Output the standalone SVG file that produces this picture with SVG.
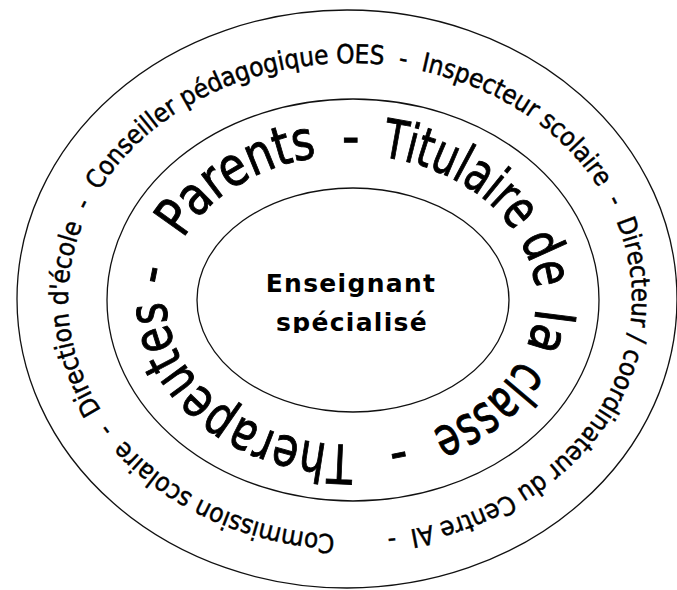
<svg xmlns="http://www.w3.org/2000/svg" xmlns:xlink="http://www.w3.org/1999/xlink" width="677" height="590" viewBox="0 0 677 590">
<style>
.ring{fill:none;stroke:#111;stroke-width:1.3}
.outer-t{font-family:"DejaVu Sans Condensed","DejaVu Sans",sans-serif;font-size:26px;fill:#000;stroke:#000;stroke-width:0.45}
.mid-t{font-family:"DejaVu Sans Condensed","DejaVu Sans",sans-serif;font-size:54px;fill:#000;stroke:#000;stroke-width:0.9}
.core-t{font-family:"DejaVu Sans","Verdana",sans-serif;font-weight:bold;font-size:25px;letter-spacing:1.3px;fill:#000;text-anchor:middle}
</style>
<defs>
<path id="outerPath" d="M350,535 A282,236 0 0 1 68,299 A282,236 0 0 1 350,63 A282,236 0 0 1 632,299 A282,236 0 0 1 350,535 A282,236 0 0 1 68,299"/>
<path id="midPath" d="M166,300 A185,145 0 0 1 351,155 A185,145 0 0 1 536,300 A185,145 0 0 1 351,445 A185,145 0 0 1 166,300 A185,145 0 0 1 351,155"/>
<clipPath id="coreClip"><rect x="0" y="0" width="677" height="333"/></clipPath>
</defs>
<rect width="677" height="590" fill="#fff"/>
<g id="outer-ring">
<ellipse class="ring" cx="347" cy="299" rx="330" ry="289"/>
<text class="outer-t" xml:space="preserve"><textPath xlink:href="#outerPath" href="#outerPath" startOffset="15" textLength="1578" lengthAdjust="spacing">Commission scolaire  -  Direction d'école  -  Conseiller pédagogique OES  -  Inspecteur scolaire  -  Directeur / coordinateur du Centre AI  -</textPath></text>
</g>
<g id="middle-ring">
<ellipse class="ring" cx="353" cy="300" rx="246" ry="201"/>
<text class="mid-t">
<textPath xlink:href="#midPath" href="#midPath" startOffset="64" textLength="162" lengthAdjust="spacingAndGlyphs">Parents</textPath>
<textPath xlink:href="#midPath" href="#midPath" startOffset="251">-</textPath>
<textPath xlink:href="#midPath" href="#midPath" startOffset="290" textLength="157" lengthAdjust="spacingAndGlyphs">Titulaire</textPath>
<textPath xlink:href="#midPath" href="#midPath" startOffset="457" textLength="52" lengthAdjust="spacingAndGlyphs">de</textPath>
<textPath xlink:href="#midPath" href="#midPath" startOffset="528" textLength="41" lengthAdjust="spacingAndGlyphs">la</textPath>
<textPath xlink:href="#midPath" href="#midPath" startOffset="582" textLength="116" lengthAdjust="spacingAndGlyphs">classe</textPath>
<textPath xlink:href="#midPath" href="#midPath" startOffset="726">-</textPath>
<textPath xlink:href="#midPath" href="#midPath" startOffset="778" textLength="261" lengthAdjust="spacingAndGlyphs">Therapeutes</textPath>
<textPath xlink:href="#midPath" href="#midPath" startOffset="1054">-</textPath>
</text>
</g>
<g id="core">
<ellipse class="ring" cx="353" cy="300" rx="156" ry="112"/>
<g clip-path="url(#coreClip)">
<text class="core-t" x="351" y="292">Enseignant</text>
<text class="core-t" x="352" y="331">spécialisé</text>
</g>
</g>
</svg>
